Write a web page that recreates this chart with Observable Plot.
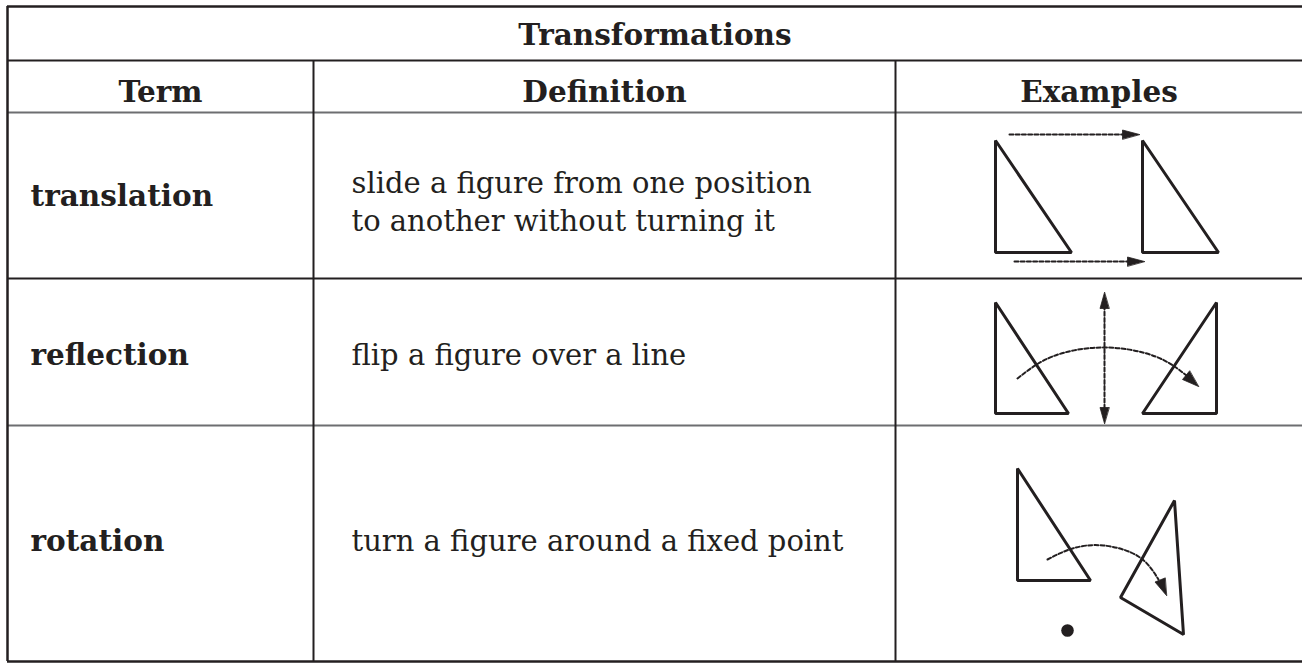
<!DOCTYPE html>
<html>
<head>
<meta charset="utf-8">
<script src="https://cdn.jsdelivr.net/npm/d3@7"></script>
<script src="https://cdn.jsdelivr.net/npm/@observablehq/plot@0.6"></script>
<style>
  html, body { margin: 0; padding: 0; background: #ffffff; }
  #chart svg { display: block; }
</style>
</head>
<body>
<div id="chart"></div>
<script>
// ---- Table content ----
const title = "Transformations";
const headers = ["Term", "Definition", "Examples"];
const terms = ["translation", "reflection", "rotation"];
const definitions = [
  ["slide a figure from one position", "to another without turning it"],
  ["flip a figure over a line"],
  ["turn a figure around a fixed point"]
];

// ---- Table grid (pixel units) ----
const colEdges = [7, 313, 895, 1302];
const rowEdges = [6, 60, 112, 278, 425, 661];
const rowBaselines = [205, 364, 550];      // term baselines per row
const defBaselines = [230, 364, 550];      // last-line baselines of definitions
const headerBaseline = 101;
const titleBaseline = 44;

// ---- Example figures: triangle vertices (x, y) per figure ----
const triangles = [
  {id: "tA", pts: [[995, 140], [995, 252], [1071, 252]]},
  {id: "tB", pts: [[1142, 140], [1142, 252], [1218, 252]]},
  {id: "fA", pts: [[995, 302], [995, 413], [1068, 413]]},
  {id: "fB", pts: [[1216, 302], [1216, 413], [1142, 413]]},
  {id: "rA", pts: [[1017, 468], [1017, 580], [1090, 580]]},
  {id: "rB", pts: [[1174, 500], [1183, 634], [1120, 597]]}
];
// dashed paths
const dashedPaths = [
  {id: "tTop", curve: "linear", pts: [[1009, 134], [1124, 134]]},
  {id: "tBot", curve: "linear", pts: [[1014, 261], [1129, 261]]},
  {id: "fVert", curve: "linear", pts: [[1104, 305], [1104, 410]]},
  {id: "fArc", curve: "natural", pts: [[1017, 378], [1052, 356], [1104, 347], [1155, 356], [1186, 375]]},
  {id: "rArc", curve: "natural", pts: [[1047, 559], [1072, 548], [1103, 545], [1138, 556], [1158, 579]]}
];
// filled arrowheads
const arrowHeads = [
  {id: "h1", pts: [[1139, 134], [1122, 129.5], [1122, 138.5]]},
  {id: "h2", pts: [[1144, 261], [1127, 256.5], [1127, 265.5]]},
  {id: "h3", pts: [[1104, 292], [1099.5, 308], [1108.5, 308]]},
  {id: "h4", pts: [[1104, 423], [1099.5, 407], [1108.5, 407]]},
  {id: "h5", pts: [[1198, 386], [1182, 379], [1189, 370.5]]},
  {id: "h6", pts: [[1166, 595], [1154.5, 581.5], [1164.5, 577.5]]}
];
const pivot = [{x: 1067, y: 630}];

// ---- Build tables for the library ----
const flat = arr => arr.flatMap(d => d.pts.map(([x, y]) => ({id: d.id, curve: d.curve, x, y})));
const triPts = flat(triangles);
const headPts = flat(arrowHeads);
const linePts = flat(dashedPaths.filter(d => d.curve === "linear"));
const arcPts = flat(dashedPaths.filter(d => d.curve === "natural"));

const colCenters = colEdges.slice(0, -1).map((e, i) => (e + colEdges[i + 1]) / 2);
const headerData = headers.map((h, i) => ({text: h, x: colCenters[i], y: headerBaseline}));
const termData = terms.map((t, i) => ({text: t, x: 30, y: rowBaselines[i]}));
const defData = definitions.map((d, i) => ({text: d.join("\n"), x: 351, y: defBaselines[i]}));

const ink = "#231f20";
const grey = "#6d6e71";
const font = "DejaVu Serif";

const horizontal = [
  {y: rowEdges[0], c: ink, w: 2.5},
  {y: rowEdges[1], c: ink, w: 2},
  {y: rowEdges[2], c: grey, w: 2},
  {y: rowEdges[3], c: ink, w: 1.8},
  {y: rowEdges[4], c: grey, w: 2},
  {y: rowEdges[5], c: ink, w: 2.5}
];
const vertical = [
  {x: colEdges[0], y1: rowEdges[0], y2: rowEdges[5], w: 2.5},
  {x: colEdges[1], y1: rowEdges[1], y2: rowEdges[5], w: 2},
  {x: colEdges[2], y1: rowEdges[1], y2: rowEdges[5], w: 2}
];

const chart = Plot.plot({
  width: 1302,
  height: 663,
  margin: 0,
  x: {domain: [0, 1302], range: [0, 1302], axis: null},
  y: {domain: [0, 663], range: [0, 663], axis: null},
  style: {background: "#ffffff", fontFamily: font},
  marks: [
    Plot.ruleY(horizontal, {y: "y", x1: colEdges[0], x2: colEdges[3], stroke: "c", strokeWidth: "w"}),
    Plot.ruleX(vertical, {x: "x", y1: "y1", y2: "y2", stroke: ink, strokeWidth: "w"}),
    Plot.text([title], {x: (colEdges[0] + colEdges[3]) / 2, y: titleBaseline, text: d => d, lineAnchor: "bottom",
      fontSize: 29.5, fontWeight: "bold", fill: ink, fontFamily: font}),
    Plot.text(headerData, {x: "x", y: "y", text: "text", lineAnchor: "bottom",
      fontSize: 29.5, fontWeight: "bold", fill: ink, fontFamily: font}),
    Plot.text(termData, {x: "x", y: "y", text: "text", textAnchor: "start", lineAnchor: "bottom",
      fontSize: 29.5, fontWeight: "bold", fill: ink, fontFamily: font}),
    Plot.text(defData, {x: "x", y: "y", text: "text", textAnchor: "start", lineAnchor: "bottom",
      lineHeight: 1.31, fontSize: 29, fill: ink, fontFamily: font}),
    Plot.line(triPts, {x: "x", y: "y", z: "id", curve: "linear-closed", stroke: ink, strokeWidth: 3,
      strokeLinejoin: "miter"}),
    Plot.line(linePts, {x: "x", y: "y", z: "id", stroke: ink, strokeWidth: 2, strokeDasharray: "4,2.2"}),
    Plot.line(arcPts, {x: "x", y: "y", z: "id", curve: "natural", stroke: ink, strokeWidth: 2, strokeDasharray: "4,2.2"}),
    Plot.line(headPts, {x: "x", y: "y", z: "id", curve: "linear-closed", fill: ink, stroke: ink, strokeWidth: 0.8}),
    Plot.dot(pivot, {x: "x", y: "y", r: 6.3, fill: ink, stroke: null})
  ]
});
document.getElementById("chart").appendChild(chart);
</script>
</body>
</html>
